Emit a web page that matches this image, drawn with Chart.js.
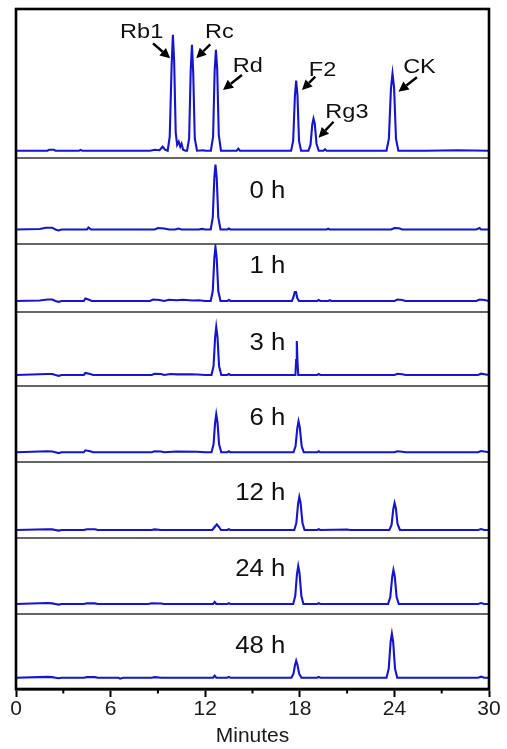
<!DOCTYPE html>
<html>
<head>
<meta charset="utf-8">
<script src="https://cdn.jsdelivr.net/npm/chart.js@4.4.1/dist/chart.umd.min.js"></script>
<style>
  html, body { margin: 0; padding: 0; background: #ffffff; }
  #wrap { width: 507px; height: 749px; }
</style>
</head>
<body>
<div id="wrap"><canvas id="c" width="507" height="749"></canvas></div>
<script>
// ---------- DATA (x = retention time in minutes, y = detector response, arbitrary units) ----------
const majorTicks = [0, 6, 12, 18, 24, 30];
const minorTicks = [3, 9, 15, 21, 27];
const xTitle = 'Minutes';

const panelLabels = ['', '0 h', '1 h', '3 h', '6 h', '12 h', '24 h', '48 h'];
const peakNames = ['Rb1', 'Rc', 'Rd', 'F2', 'Rg3', 'CK'];

const standards = [
  [0,0],[2.0,0],[2.1,1],[2.4,1],[2.5,0],[4.0,0],[4.1,0.8],[4.2,0],[8.5,0],[8.8,1],[9.1,0.5],[9.3,4],[9.45,1],
  [9.62,0],[9.75,14],[9.87,85],[9.95,116],[10.03,90],[10.13,18],[10.22,6],[10.32,9],[10.42,4],[10.5,7],[10.6,1],[10.75,0],
  [10.85,0],[10.98,12],[11.08,80],[11.16,106],[11.24,78],[11.34,12],[11.48,0],[11.9,0.5],[12.0,0],
  [12.36,0],[12.5,14],[12.6,80],[12.68,101],[12.76,82],[12.86,16],[13.0,0],
  [14.0,0],[14.1,2],[14.2,0],
  [17.45,0],[17.58,10],[17.69,55],[17.77,70],[17.85,56],[17.95,10],[18.08,0],
  [18.55,0],[18.68,6],[18.79,26],[18.87,32],[18.95,27],[19.06,7],[19.2,0],[19.5,0],[19.6,1.5],[19.7,0],
  [23.5,0],[23.65,12],[23.78,62],[23.88,77],[23.98,63],[24.1,12],[24.25,0],
  [26,0],[28,0.5],[30,0]
];
const h0 = [
  [0,0],[1.5,0.5],[1.9,1.8],[2.3,1.8],[2.5,0],[2.7,-1],[2.9,0],[4.5,0],[4.6,2],[4.75,0],[8.8,0],[9.0,1.5],[9.4,1],[9.7,0],
  [10.1,0],[10.3,1],[10.5,0],[11.6,0],[11.8,0.6],[12.0,0],
  [12.35,0],[12.48,12],[12.58,52],[12.65,65],[12.73,52],[12.83,12],[12.97,0],
  [13.4,0],[13.5,1],[13.6,0],[19.7,0],[19.8,0.8],[19.9,0],[23.8,0],[24.0,1.5],[24.3,1.2],[24.5,0],[29.2,0],[29.4,1.5],[29.5,0],[30,0]
];
const h1 = [
  [0,0],[1.5,0.5],[2.0,1.5],[2.3,1.5],[2.5,0],[2.7,-0.8],[2.9,0],[4.3,0],[4.4,2.5],[4.6,1.5],[4.8,0],[8.5,0],[8.7,1.5],[9.1,1],[9.4,0],
  [9.7,1.2],[10.2,0.8],[10.6,1.2],[11.2,0.5],[11.6,0.8],[12.0,0],
  [12.35,0],[12.48,10],[12.58,43],[12.65,54],[12.73,43],[12.83,10],[12.97,0],
  [13.4,0],[13.5,1],[13.6,0],
  [17.5,0],[17.6,4],[17.68,9],[17.76,9],[17.84,3],[17.95,0],
  [19.1,0],[19.2,1],[19.3,0],[19.8,0],[19.9,0.8],[20,0],[24.0,0],[24.2,1.5],[24.5,1],[24.7,0],[29.2,0],[29.4,1.5],[29.7,1],[30,0]
];
const h3 = [
  [0,0],[2.0,1],[2.3,1],[2.5,0],[2.7,-0.8],[2.9,0],[4.3,0],[4.4,2],[4.7,1],[4.9,0],[8.6,0],[8.8,1.2],[9.2,1],[9.4,0],
  [9.8,1],[10.2,0.6],[11.1,0.8],[11.5,0.5],[12.0,0],
  [12.4,0],[12.53,9],[12.63,38],[12.7,48],[12.78,38],[12.88,9],[13.02,0],
  [13.4,0],[13.5,1],[13.6,0],
  [17.72,0],[17.77,15],[17.81,34],[17.85,15],[17.9,0],
  [19.1,0],[19.2,1],[19.3,0],[24.0,0],[24.2,1.2],[24.5,0.8],[24.7,0],[29.3,0],[29.5,1.3],[29.8,0.5],[30,0]
];
const h6 = [
  [0,0],[2.0,1],[2.3,0.8],[2.5,0],[2.7,-0.8],[2.9,0],[4.3,0],[4.4,2],[4.7,1],[4.9,0],[8.6,0],[8.8,1],[9.2,0.8],[9.4,0],
  [10.2,0.8],[11.5,0.5],[12.0,0],
  [12.4,0],[12.53,8],[12.63,30],[12.7,38],[12.78,30],[12.88,8],[13.02,0],
  [13.4,0],[13.5,1],[13.6,0],
  [17.6,0],[17.73,6],[17.84,24],[17.92,31],[18.0,25],[18.12,6],[18.25,0],
  [19.1,0],[19.2,1],[19.3,0],[24.0,0],[24.2,1],[24.5,0.6],[24.7,0],[29.3,0],[29.5,1.3],[29.8,0.5],[30,0]
];
const h12 = [
  [0,0],[2.0,0.8],[2.3,0.6],[2.5,0],[2.7,-0.6],[2.9,0],[4.3,0],[4.5,0.8],[5,0.8],[5.2,0],[8.6,0],[8.8,0.6],[9.2,0],
  [12.45,0],[12.6,3],[12.74,5.7],[12.88,3],[13.0,0],
  [13.4,0],[13.5,0.8],[13.6,0],
  [17.65,0],[17.78,7],[17.89,26],[17.97,33],[18.05,27],[18.17,7],[18.3,0],
  [19.1,0],[19.2,0.8],[19.3,0],[21,0.5],[21.2,0],
  [23.68,0],[23.82,5],[23.93,21],[24.01,27],[24.09,22],[24.2,6],[24.35,0],
  [29.3,0],[29.5,1],[29.7,0],[30,0]
];
const h24 = [
  [0,0],[2.0,1],[2.3,0.6],[2.5,0],[2.7,-0.6],[2.9,0],[4.3,0],[4.5,0.8],[5,0.6],[5.2,0],[8.4,0],[8.6,0.8],[9.2,0.5],[9.4,0],
  [12.5,0],[12.6,2],[12.7,0],[13.4,0],[13.5,0.8],[13.6,0],
  [17.58,0],[17.71,8],[17.82,30],[17.9,38],[17.98,31],[18.1,8],[18.23,0],
  [19.1,0],[19.2,0.8],[19.3,0],
  [23.6,0],[23.74,7],[23.86,27],[23.94,34],[24.02,28],[24.14,7],[24.28,0],
  [29.3,0],[29.5,1],[29.7,0],[30,0]
];
const h48 = [
  [0,0],[2.0,0.8],[2.3,0.6],[2.5,0],[2.7,-0.6],[2.9,0],[4.3,0],[4.5,0.6],[5,0.6],[5.2,0],[6.5,0],[6.6,-1],[6.8,0],
  [8.6,0],[8.8,0.6],[9.2,0],[12.5,0],[12.6,2],[12.7,0],[13.4,0],[13.5,0.8],[13.6,0],
  [17.47,0],[17.6,4],[17.7,13],[17.77,17],[17.85,13],[17.96,4],[18.1,0],
  [19.1,0],[19.2,0.8],[19.3,0],
  [23.5,0],[23.64,9],[23.76,36],[23.84,44],[23.92,36],[24.04,9],[24.18,0],
  [29.3,0],[29.5,1],[29.7,0],[30,0]
];

const panelSeries = [standards, h0, h1, h3, h6, h12, h24, h48];

// ---------- LAYOUT / STYLE ----------
const panelRanges = [[-7.3, 141.7], [-14.5, 71.5], [-11, 57], [-11, 63], [-9.7, 66.3], [-8, 68], [-10, 66], [-11.3, 63.7]];
// label placement in panel data units: [minute, value] (text right edge / baseline)
const panelLabelPos = [null, [17.08, 31.2], [17.08, 27.7], [17.08, 25], [17.08, 27.3], [17.08, 30], [17.08, 28], [17.08, 25]];
// peak annotations in top panel units: text centre x, baseline y, arrow tail, arrow head
const peakTextPos = [[7.97, 112.4], [12.9, 112.4], [14.7, 79], [19.44, 74.7], [20.99, 32.7], [25.59, 78]];
const peakArrows = [
  [[8.69, 107.4], [9.78, 92.4]],
  [[12.32, 106.4], [11.43, 92.4]],
  [[14.33, 75.7], [13.13, 60.7]],
  [[18.98, 74], [18.14, 60.7]],
  [[20.14, 29], [19.19, 13]],
  [[25.43, 73.4], [24.26, 59]]
];
const LINE = '#1414d2';
const FONT = '"Liberation Sans", Arial, sans-serif';
const TEXT_STRETCH = 1.12;

const panelIds = panelSeries.map((_, i) => 'y' + i);

const scales = {
  x: {
    type: 'linear', position: 'bottom', min: 0, max: 30,
    afterBuildTicks: s => { s.ticks = majorTicks.map(v => ({ value: v })); },
    afterFit: s => { s.height = 60; },
    grid: { display: true, drawOnChartArea: false, drawTicks: true, tickLength: 8, tickColor: '#000', tickWidth: 2 },
    border: { display: true, color: '#000', width: 2.5 },
    ticks: { color: '#1a1a1a', font: { family: FONT, size: 21 }, padding: 0, maxRotation: 0, autoSkip: false },
    title: { display: true, text: xTitle, color: '#1a1a1a', font: { family: FONT, size: 21 }, padding: { top: 0, bottom: 0 } }
  }
};
panelIds.forEach((id, i) => {
  scales[id] = {
    type: 'linear', display: false, position: 'left', stack: 'panels',
    stackWeight: panelRanges[i][1] - panelRanges[i][0], weight: panelIds.length - i,
    min: panelRanges[i][0], max: panelRanges[i][1]
  };
});

function arrow(ctx, x1, y1, x2, y2) {
  const ang = Math.atan2(y2 - y1, x2 - x1);
  const L = 10, W = 5;
  const bx = x2 - L * Math.cos(ang), by = y2 - L * Math.sin(ang);
  ctx.beginPath(); ctx.moveTo(x1, y1); ctx.lineTo(bx, by); ctx.stroke();
  ctx.beginPath();
  ctx.moveTo(x2, y2);
  ctx.lineTo(bx + W * Math.sin(ang), by - W * Math.cos(ang));
  ctx.lineTo(bx - W * Math.sin(ang), by + W * Math.cos(ang));
  ctx.closePath(); ctx.fill();
}

function stretchedText(ctx, text, x, y) {
  ctx.save();
  ctx.translate(x, y);
  ctx.scale(TEXT_STRETCH, 1);
  ctx.fillText(text, 0, 0);
  ctx.restore();
}

const decor = {
  id: 'decor',
  afterDatasetsDraw(chart) {
    const ctx = chart.ctx, a = chart.chartArea, xs = chart.scales.x;
    ctx.save();
    // panel dividers
    ctx.strokeStyle = '#333'; ctx.lineWidth = 1.6;
    panelIds.slice(1).forEach(id => {
      const t = chart.scales[id].top;
      ctx.beginPath(); ctx.moveTo(a.left, t); ctx.lineTo(a.right, t); ctx.stroke();
    });
    // frame
    ctx.strokeStyle = '#000'; ctx.lineWidth = 2.6;
    ctx.strokeRect(a.left, a.top, a.right - a.left, a.bottom - a.top);
    // minor ticks
    ctx.lineWidth = 2;
    minorTicks.forEach(v => {
      const px = xs.getPixelForValue(v);
      ctx.beginPath(); ctx.moveTo(px, a.bottom); ctx.lineTo(px, a.bottom + 4.5); ctx.stroke();
    });
    // panel labels
    ctx.fillStyle = '#111';
    ctx.font = '23px ' + FONT;
    ctx.textAlign = 'right'; ctx.textBaseline = 'alphabetic';
    panelLabels.forEach((t, i) => {
      if (!t) return;
      const ys = chart.scales[panelIds[i]];
      stretchedText(ctx, t, xs.getPixelForValue(panelLabelPos[i][0]), ys.getPixelForValue(panelLabelPos[i][1]));
    });
    // peak names + arrows on the top panel
    const y0 = chart.scales[panelIds[0]];
    ctx.font = '21px ' + FONT; ctx.textAlign = 'center';
    peakNames.forEach((n, i) => {
      stretchedText(ctx, n, xs.getPixelForValue(peakTextPos[i][0]), y0.getPixelForValue(peakTextPos[i][1]));
    });
    ctx.strokeStyle = '#000'; ctx.fillStyle = '#000'; ctx.lineWidth = 2.4;
    peakArrows.forEach(([t, h]) => {
      arrow(ctx, xs.getPixelForValue(t[0]), y0.getPixelForValue(t[1]), xs.getPixelForValue(h[0]), y0.getPixelForValue(h[1]));
    });
    ctx.restore();
  }
};

new Chart(document.getElementById('c'), {
  type: 'line',
  data: {
    datasets: panelSeries.map((d, i) => ({
      label: panelLabels[i] || 'standards',
      data: d, xAxisID: 'x', yAxisID: panelIds[i],
      borderColor: LINE, borderWidth: 2.1, pointRadius: 0, tension: 0, fill: false
    }))
  },
  options: {
    responsive: false, animation: false, devicePixelRatio: 1,
    layout: { padding: { left: 16, right: 18, top: 9, bottom: 0 } },
    plugins: { legend: { display: false }, tooltip: { enabled: false } },
    scales
  },
  plugins: [decor]
});
</script>
</body>
</html>
